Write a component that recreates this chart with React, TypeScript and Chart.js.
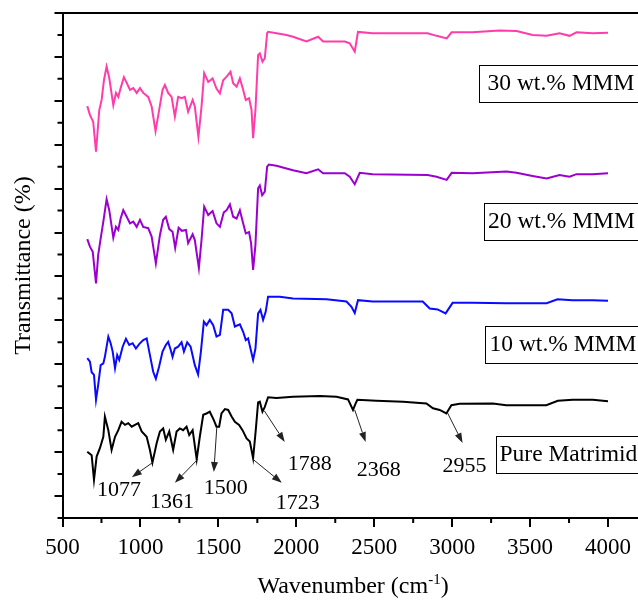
import { useEffect, useRef } from 'react';
import { Chart, registerables } from 'chart.js';

Chart.register(...registerables);

const FONT = '"Liberation Serif", "Times New Roman", serif';

// ---- tick values ----
const xTickValues = [500, 1000, 1500, 2000, 2500, 3000, 3500, 4000];
const xMinorTickValues = [750, 1250, 1750, 2250, 2750, 3250, 3750];
const yMajorTickValues = [0, 10, 20, 30, 40, 50, 60, 70, 80, 90, 100, 110];
const yMinorTickValues = [-5, 5, 15, 25, 35, 45, 55, 65, 75, 85, 95, 105];

// ---- series: 30 wt.% MMM ----
const pinkWn = [659, 676, 697, 715, 736, 751, 766, 783, 800, 826, 843, 858, 873, 894, 912, 933, 954, 976, 997, 1018, 1050, 1072, 1097, 1120, 1142, 1157, 1178, 1200, 1221, 1242, 1264, 1285, 1306, 1335, 1349, 1372, 1392, 1409, 1435, 1463, 1488, 1510, 1531, 1553, 1578, 1595, 1617, 1638, 1659, 1676, 1697, 1713, 1723, 1738, 1755, 1766, 1783, 1798, 1813, 1819, 1873, 1937, 1979, 2065, 2140, 2172, 2311, 2343, 2375, 2396, 2490, 2843, 2900, 2965, 2997, 3131, 3304, 3413, 3516, 3606, 3689, 3753, 3798, 3901, 4000];
const pinkT = [88.8, 86.8, 85.2, 78.4, 87.9, 90.2, 94.7, 97.8, 95.2, 89.0, 91.8, 90.9, 92.9, 95.4, 94.1, 92.5, 92.9, 91.8, 92.9, 91.8, 90.9, 88.7, 83.1, 87.9, 92.5, 93.6, 91.8, 90.9, 86.4, 90.9, 90.6, 90.9, 87.5, 90.2, 88.7, 81.8, 88.7, 96.3, 94.3, 95.1, 92.8, 91.7, 94.7, 95.5, 96.6, 94.0, 93.2, 95.1, 92.5, 90.2, 90.6, 87.9, 81.5, 87.9, 100.4, 100.8, 98.9, 99.7, 105.4, 105.7, 105.4, 105.0, 104.6, 103.5, 104.6, 103.5, 103.5, 103.1, 101.2, 105.7, 105.4, 105.4, 104.8, 104.2, 105.6, 105.6, 106.0, 105.9, 105.0, 104.8, 105.4, 104.8, 105.6, 105.4, 105.5];

// ---- series: 20 wt.% MMM ----
const purpleWn = [659, 676, 694, 715, 729, 745, 762, 783, 800, 826, 843, 858, 873, 890, 912, 933, 954, 976, 997, 1018, 1050, 1072, 1099, 1125, 1146, 1163, 1185, 1206, 1223, 1245, 1266, 1292, 1306, 1335, 1349, 1375, 1392, 1409, 1435, 1463, 1488, 1510, 1535, 1553, 1574, 1595, 1617, 1638, 1659, 1676, 1697, 1710, 1723, 1738, 1755, 1766, 1781, 1798, 1813, 1824, 1873, 1937, 1979, 2065, 2140, 2172, 2311, 2343, 2375, 2407, 2490, 2843, 2900, 2965, 2997, 3131, 3349, 3413, 3516, 3606, 3689, 3753, 3798, 3901, 4000];
const purpleT = [58.5, 56.8, 55.6, 48.4, 54.9, 58.7, 62.5, 67.6, 65.1, 58.8, 61.3, 60.6, 63.2, 65.1, 63.6, 62.1, 62.5, 61.3, 62.9, 61.3, 61.0, 59.1, 53.0, 59.4, 62.9, 63.6, 60.8, 60.2, 56.5, 61.1, 60.4, 60.6, 57.6, 59.6, 58.3, 51.9, 58.3, 65.9, 64.0, 64.9, 62.1, 61.3, 64.6, 65.1, 66.4, 63.6, 63.2, 65.1, 62.1, 59.8, 60.1, 57.6, 51.5, 57.2, 70.1, 70.7, 68.5, 69.3, 75.0, 75.5, 75.2, 74.6, 74.2, 73.5, 74.4, 73.5, 73.5, 72.7, 71.0, 73.6, 73.3, 73.1, 72.7, 72.0, 73.6, 73.5, 73.9, 73.6, 72.9, 72.3, 73.1, 72.7, 73.3, 73.3, 73.5];

// ---- series: 10 wt.% MMM ----
const blueWn = [659, 676, 687, 702, 715, 729, 745, 762, 772, 794, 809, 822, 837, 851, 864, 886, 907, 928, 950, 971, 992, 1018, 1040, 1061, 1082, 1099, 1120, 1142, 1163, 1178, 1194, 1206, 1221, 1242, 1264, 1279, 1300, 1322, 1349, 1370, 1388, 1407, 1424, 1445, 1467, 1488, 1510, 1531, 1563, 1585, 1606, 1638, 1659, 1676, 1691, 1706, 1723, 1738, 1755, 1770, 1787, 1804, 1819, 1894, 1979, 2194, 2322, 2354, 2375, 2396, 2490, 2811, 2856, 2907, 2958, 3003, 3131, 3349, 3606, 3676, 3772, 3901, 4000];
const blueT = [31.4, 30.6, 28.2, 27.6, 21.9, 25.3, 29.8, 30.2, 31.7, 36.3, 34.8, 32.9, 29.1, 32.1, 31.0, 34.0, 35.8, 34.4, 34.8, 33.6, 34.6, 35.5, 35.9, 32.1, 28.3, 26.7, 29.5, 32.9, 34.4, 35.1, 33.3, 31.7, 33.6, 34.0, 35.0, 32.9, 35.0, 34.0, 29.8, 27.7, 32.9, 39.7, 38.9, 40.1, 38.9, 36.3, 36.7, 42.4, 42.4, 41.6, 38.6, 39.1, 37.4, 35.5, 35.9, 33.6, 31.0, 33.6, 41.6, 42.4, 40.1, 42.0, 45.4, 45.4, 45.0, 44.8, 44.3, 43.1, 41.7, 44.6, 44.3, 44.3, 42.7, 42.5, 41.6, 44.0, 44.0, 43.9, 43.9, 44.8, 44.6, 44.6, 44.5];

// ---- series: Pure Matrimid ----
const blackWn = [659, 687, 702, 719, 740, 762, 772, 794, 815, 837, 858, 879, 901, 922, 944, 965, 986, 1008, 1040, 1061, 1077, 1104, 1125, 1146, 1163, 1185, 1210, 1232, 1253, 1274, 1296, 1313, 1335, 1361, 1381, 1403, 1424, 1445, 1471, 1488, 1505, 1520, 1542, 1563, 1585, 1606, 1633, 1655, 1681, 1702, 1723, 1740, 1755, 1766, 1783, 1798, 1819, 1873, 1979, 2151, 2258, 2332, 2364, 2381, 2392, 2514, 2685, 2835, 2877, 2920, 2963, 2995, 3048, 3261, 3347, 3604, 3678, 3774, 3902, 4000];
const blackT = [10.1, 9.3, 3.7, 9.0, 10.9, 13.5, 18.1, 15.0, 10.5, 13.5, 15.0, 16.9, 16.2, 16.6, 15.8, 16.2, 16.6, 14.7, 13.5, 10.5, 7.6, 12.0, 14.7, 15.4, 12.8, 14.7, 10.5, 14.7, 15.4, 15.0, 15.8, 13.9, 15.0, 8.4, 13.5, 18.5, 18.8, 19.2, 17.3, 15.8, 15.8, 18.8, 19.8, 19.6, 18.1, 16.9, 16.2, 15.0, 13.1, 12.4, 8.6, 15.0, 21.3, 21.5, 19.2, 20.3, 22.5, 22.3, 22.6, 22.8, 22.6, 22.0, 19.6, 21.1, 21.9, 21.7, 21.5, 21.1, 20.0, 19.6, 18.8, 20.7, 21.0, 21.1, 20.7, 20.7, 21.7, 21.9, 21.9, 21.6];

// ---- peak annotations (wavenumber, transmittance) ----
const peakLabels = ['1077', '1361', '1500', '1723', '1788', '2368', '2955'];
const arrowFrom = [[1077, 7.6], [1369, 8.4], [1490, 15.7], [1721, 8.4], [1795, 19.4], [2375, 19.6], [2971, 18.9]];
const arrowTo = [[945, 4.3], [1221, 3.0], [1471, 5.5], [1907, 3.0], [1926, 12.3], [2445, 12.3], [3067, 12.1]];
const labelAt = [[862, 1.4], [1202, -1.4], [1548, 1.8], [2010, -1.6], [2086, 7.3], [2529, 5.9], [3080, 6.8]];

// ---- series name boxes (left edge wavenumber, centre transmittance) ----
const seriesNames = ['30 wt.% MMM', '20 wt.% MMM', '10 wt.% MMM', 'Pure Matrimid'];
const nameBoxAt = [[3170, 94.0], [3202, 62.7], [3213, 34.6], [3279, 9.6]];
const nameTextInset = [8, 3.5, 4, 3];

const decorPlugin = {
  id: 'decor',
  afterDraw(chart: any) {
    const ctx: CanvasRenderingContext2D = chart.ctx;
    const xs = chart.scales.x;
    const ys = chart.scales.y;
    const ca = chart.chartArea;
    ctx.save();
    ctx.strokeStyle = '#000';
    ctx.fillStyle = '#000';
    // top frame line
    ctx.lineWidth = 2;
    ctx.beginPath();
    ctx.moveTo(ca.left - 1, ca.top);
    ctx.lineTo(chart.width, ca.top);
    ctx.stroke();
    // minor ticks
    ctx.beginPath();
    for (const v of xMinorTickValues) {
      const px = xs.getPixelForValue(v);
      ctx.moveTo(px, ca.bottom);
      ctx.lineTo(px, ca.bottom + 5);
    }
    for (const v of yMinorTickValues) {
      const py = ys.getPixelForValue(v);
      ctx.moveTo(ca.left, py);
      ctx.lineTo(ca.left - 5, py);
    }
    ctx.stroke();

    // x title with superscript
    const cx = (ca.left + ca.right) / 2 + 3;
    const base = ca.bottom + 75;
    ctx.textBaseline = 'alphabetic';
    ctx.textAlign = 'left';
    const big = `24px ${FONT}`;
    const small = `15px ${FONT}`;
    const t1 = 'Wavenumber (cm';
    const t2 = '-1';
    const t3 = ')';
    ctx.font = big;
    const w1 = ctx.measureText(t1).width;
    const w3 = ctx.measureText(t3).width;
    ctx.font = small;
    const w2 = ctx.measureText(t2).width;
    let sx = cx - (w1 + w2 + w3) / 2;
    ctx.font = big;
    ctx.fillText(t1, sx, base);
    sx += w1;
    ctx.font = small;
    ctx.fillText(t2, sx, base - 9);
    sx += w2;
    ctx.font = big;
    ctx.fillText(t3, sx, base);

    // peak arrows
    ctx.lineWidth = 1;
    ctx.strokeStyle = '#222';
    ctx.fillStyle = '#222';
    for (let i = 0; i < peakLabels.length; i++) {
      const x0 = xs.getPixelForValue(arrowFrom[i][0]);
      const y0 = ys.getPixelForValue(arrowFrom[i][1]);
      const x1 = xs.getPixelForValue(arrowTo[i][0]);
      const y1 = ys.getPixelForValue(arrowTo[i][1]);
      const ang = Math.atan2(y1 - y0, x1 - x0);
      const hl = 10;
      const hw = 3.5;
      const bx = x1 - hl * Math.cos(ang);
      const by = y1 - hl * Math.sin(ang);
      ctx.beginPath();
      ctx.moveTo(x0, y0);
      ctx.lineTo(bx, by);
      ctx.stroke();
      ctx.beginPath();
      ctx.moveTo(x1, y1);
      ctx.lineTo(bx + hw * Math.sin(ang), by - hw * Math.cos(ang));
      ctx.lineTo(bx - hw * Math.sin(ang), by + hw * Math.cos(ang));
      ctx.closePath();
      ctx.fill();
    }
    ctx.fillStyle = '#000';
    ctx.font = `22px ${FONT}`;
    ctx.textAlign = 'center';
    ctx.textBaseline = 'middle';
    for (let i = 0; i < peakLabels.length; i++) {
      ctx.fillText(peakLabels[i], xs.getPixelForValue(labelAt[i][0]), ys.getPixelForValue(labelAt[i][1]));
    }

    // series name boxes
    ctx.font = `23.5px ${FONT}`;
    ctx.textAlign = 'left';
    ctx.lineWidth = 1;
    ctx.strokeStyle = '#000';
    for (let i = 0; i < seriesNames.length; i++) {
      const lx = Math.round(xs.getPixelForValue(nameBoxAt[i][0])) + 0.5;
      const cy = ys.getPixelForValue(nameBoxAt[i][1]);
      const top = Math.round(cy - 18) + 0.5;
      ctx.fillStyle = '#fff';
      ctx.fillRect(lx, top, 220, 37);
      ctx.strokeRect(lx, top, 220, 37);
      ctx.fillStyle = '#000';
      ctx.fillText(seriesNames[i], lx + nameTextInset[i], cy + 1);
    }
    ctx.restore();
  },
};

function toPoints(xs: number[], ys: number[]) {
  return xs.map((x, i) => ({ x, y: ys[i] }));
}

export default function App() {
  const ref = useRef<HTMLCanvasElement | null>(null);
  useEffect(() => {
    if (!ref.current) return;
    const line = (label: string, wn: number[], t: number[], color: string) => ({
      label,
      data: toPoints(wn, t),
      borderColor: color,
      backgroundColor: color,
      borderWidth: 2,
      pointRadius: 0,
      tension: 0,
      fill: false,
    });
    const chart = new Chart(ref.current, {
      type: 'line',
      data: {
        datasets: [
          line(seriesNames[0], pinkWn, pinkT, '#FF3CAA'),
          line(seriesNames[1], purpleWn, purpleT, '#9B00CF'),
          line(seriesNames[2], blueWn, blueT, '#0A0AFF'),
          line(seriesNames[3], blackWn, blackT, '#000000'),
        ],
      },
      options: {
        animation: false,
        responsive: false,
        layout: { padding: { top: 13, left: 0, right: 0, bottom: 0 } },
        plugins: { legend: { display: false }, tooltip: { enabled: false } },
        scales: {
          x: {
            type: 'linear',
            min: 500,
            max: 4190,
            afterBuildTicks: (s: any) => {
              s.ticks = xTickValues.map((v) => ({ value: v }));
            },
            afterFit: (s: any) => {
              s.height = 86;
            },
            ticks: {
              font: { family: FONT, size: 23 },
              color: '#000',
              padding: 7,
              maxRotation: 0,
              autoSkip: false,
              callback: (v: any) => String(v),
            },
            grid: { display: true, drawOnChartArea: false, drawTicks: true, tickLength: 9, color: '#000', lineWidth: 2 },
            border: { display: true, color: '#000', width: 2 },
          },
          y: {
            type: 'linear',
            min: -5,
            max: 110,
            afterBuildTicks: (s: any) => {
              s.ticks = yMajorTickValues.map((v) => ({ value: v }));
            },
            afterFit: (s: any) => {
              s.width = 62.5;
            },
            ticks: { display: false },
            grid: { display: true, drawOnChartArea: false, drawTicks: true, tickLength: 8, color: '#000', lineWidth: 2 },
            border: { display: true, color: '#000', width: 2 },
            title: {
              display: true,
              text: 'Transmittance (%)',
              font: { family: FONT, size: 24 },
              color: '#000',
              padding: { top: 9, bottom: 0 },
            },
          },
        },
      },
      plugins: [decorPlugin],
    } as any);
    return () => chart.destroy();
  }, []);
  return (
    <div style={{ position: 'fixed', left: 0, top: 0, width: 638, height: 604, overflow: 'hidden', background: '#fff' }}>
      <canvas ref={ref} width={638} height={604} style={{ display: 'block' }} />
    </div>
  );
}
